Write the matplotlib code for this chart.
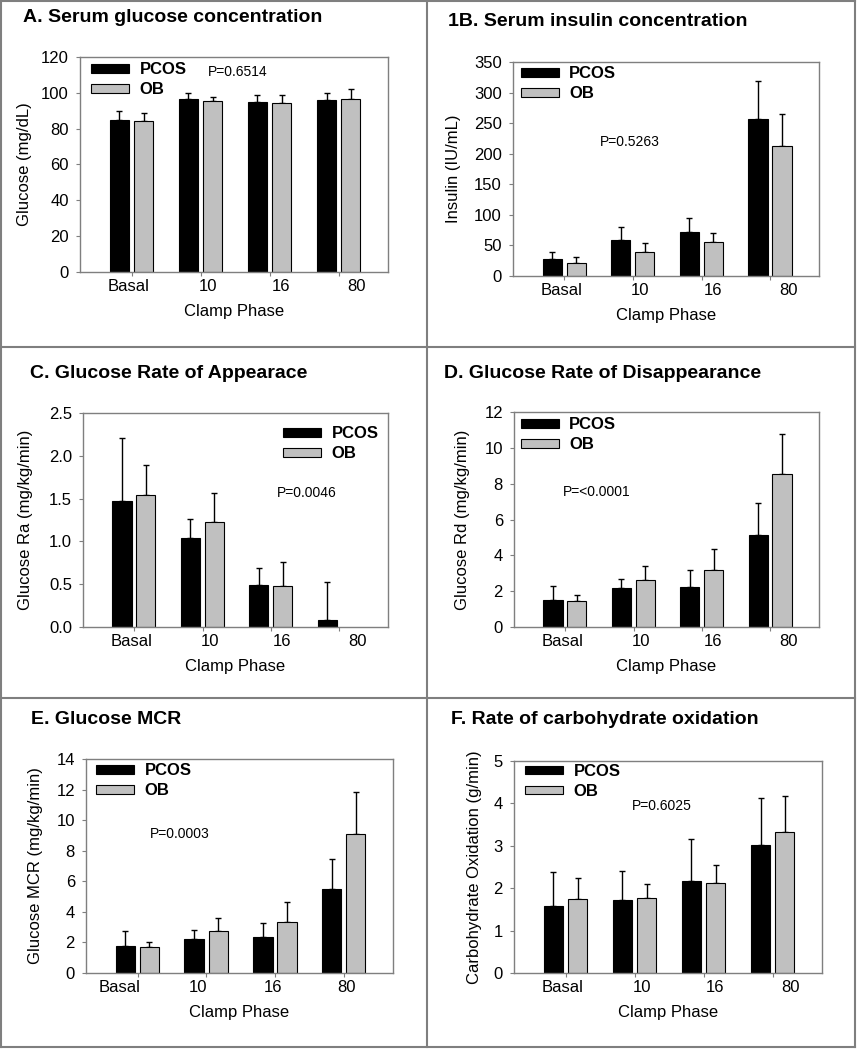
import numpy as np
import matplotlib
matplotlib.use("Agg")
import matplotlib.pyplot as plt
from matplotlib.lines import Line2D
from matplotlib.ticker import FormatStrFormatter

plt.rcParams["font.family"] = ["Liberation Sans", "DejaVu Sans"]

phases = ["Basal", "10", "16", "80"]

# A. serum glucose (mg/dL)
glucose_pcos = [85.0, 96.8, 95.0, 95.9]
glucose_pcos_err = [4.7, 3.2, 3.9, 3.9]
glucose_ob = [84.5, 95.7, 94.4, 96.3]
glucose_ob_err = [4.5, 2.2, 4.5, 5.7]

# B. serum insulin (IU/mL)
insulin_pcos = [27.2, 58.2, 72.4, 257.0]
insulin_pcos_err = [11.4, 22.4, 22.9, 62.0]
insulin_ob = [21.8, 38.6, 56.1, 211.8]
insulin_ob_err = [9.8, 15.3, 14.7, 52.8]

# C. glucose Ra (mg/kg/min) - no OB bar at 80
ra_pcos = [1.47, 1.04, 0.495, 0.078]
ra_pcos_err = [0.74, 0.22, 0.194, 0.448]
ra_ob = [1.54, 1.23, 0.48, np.nan]
ra_ob_err = [0.35, 0.335, 0.284, np.nan]

# D. glucose Rd (mg/kg/min)
rd_pcos = [1.53, 2.16, 2.23, 5.13]
rd_pcos_err = [0.76, 0.54, 0.97, 1.81]
rd_ob = [1.47, 2.60, 3.16, 8.54]
rd_ob_err = [0.30, 0.79, 1.21, 2.23]

# E. glucose MCR (mg/kg/min)
mcr_pcos = [1.79, 2.25, 2.36, 5.49]
mcr_pcos_err = [0.97, 0.57, 0.88, 1.97]
mcr_ob = [1.68, 2.76, 3.33, 9.08]
mcr_ob_err = [0.38, 0.83, 1.33, 2.73]

# F. carbohydrate oxidation (g/min)
cho_pcos = [1.57, 1.73, 2.18, 3.03]
cho_pcos_err = [0.81, 0.68, 0.98, 1.10]
cho_ob = [1.75, 1.76, 2.12, 3.32]
cho_ob_err = [0.49, 0.35, 0.43, 0.86]

W, H = 858, 1050
fig = plt.figure(figsize=(W / 100, H / 100), dpi=100)

shift_std = [-0.04, 0.10, 0.16, 0.26]
shift_e = [-0.26, -0.12, -0.03, 0.03]

panels = [
    dict(title="A. Serum glucose concentration", txy=(23, 17), box=(80, 57, 388, 272),
         ylabel="Glucose (mg/dL)", ylim=120, ystep=20,
         data=(glucose_pcos, glucose_pcos_err, glucose_ob, glucose_ob_err),
         p="P=0.6514", pxy=(0.416, 0.93), leg=(0.036, 0.975), shift=shift_std, ylx=-0.156),
    dict(title="1B. Serum insulin concentration", txy=(448, 22), box=(513, 62, 819, 276),
         ylabel="Insulin (IU/mL)", ylim=350, ystep=50,
         data=(insulin_pcos, insulin_pcos_err, insulin_ob, insulin_ob_err),
         p="P=0.5263", pxy=(0.284, 0.626), leg=(0.026, 0.98), shift=shift_std, ylx=-0.17),
    dict(title="C. Glucose Rate of Appearace", txy=(30, 373), box=(83, 413, 388, 627),
         ylabel="Glucose Ra (mg/kg/min)", ylim=2.5, ystep=0.5,
         data=(ra_pcos, ra_pcos_err, ra_ob, ra_ob_err),
         p="P=0.0046", pxy=(0.636, 0.626), leg=(0.656, 0.938), shift=shift_std, ylx=-0.164),
    dict(title="D. Glucose Rate of Disappearance", txy=(444, 373), box=(514, 412, 819, 627),
         ylabel="Glucose Rd (mg/kg/min)", ylim=12, ystep=2,
         data=(rd_pcos, rd_pcos_err, rd_ob, rd_ob_err),
         p="P=<0.0001", pxy=(0.16, 0.628), leg=(0.023, 0.975), shift=shift_std, ylx=-0.144),
    dict(title="E. Glucose MCR", txy=(31, 719), box=(86, 759, 393, 973),
         ylabel="Glucose MCR (mg/kg/min)", ylim=14, ystep=2,
         data=(mcr_pcos, mcr_pcos_err, mcr_ob, mcr_ob_err),
         p="P=0.0003", pxy=(0.208, 0.65), leg=(0.033, 0.98), shift=shift_e, ylx=-0.14),
    dict(title="F. Rate of carbohydrate oxidation", txy=(451, 720), box=(514, 761, 822, 973),
         ylabel="Carbohydrate Oxidation (g/min)", ylim=5, ystep=1,
         data=(cho_pcos, cho_pcos_err, cho_ob, cho_ob_err),
         p="P=0.6025", pxy=(0.383, 0.788), leg=(0.036, 0.985), shift=shift_std, ylx=-0.104),
]

x = np.arange(len(phases))
bw = 0.28
frame_col = "#7f7f7f"

for pn in panels:
    l, t, r, b = pn["box"]
    ax = fig.add_axes([l / W, 1 - b / H, (r - l) / W, (b - t) / H])
    pcos, pcos_err, ob, ob_err = [np.array(v, dtype=float) for v in pn["data"]]

    b1 = ax.bar(x - 0.18, pcos, bw, color="black", edgecolor="black", linewidth=0.8, label="PCOS", zorder=2)
    b2 = ax.bar(x + 0.17, ob, bw, color="#c0c0c0", edgecolor="black", linewidth=0.8, label="OB", zorder=2)
    ax.errorbar(x - 0.18, pcos, yerr=[np.zeros(4), pcos_err], fmt="none", ecolor="black",
                elinewidth=1, capsize=2.5, capthick=1, zorder=1)
    ok = ~np.isnan(ob)
    ax.errorbar((x + 0.17)[ok], ob[ok], yerr=[np.zeros(ok.sum()), ob_err[ok]], fmt="none",
                ecolor="black", elinewidth=1, capsize=2.5, capthick=1, zorder=1)

    ax.set_xlim(-0.75, 3.71)
    ax.set_ylim(0, pn["ylim"])
    ax.set_yticks(np.arange(0, pn["ylim"] + pn["ystep"] / 2, pn["ystep"]))
    if pn["ystep"] < 1:
        ax.yaxis.set_major_formatter(FormatStrFormatter("%.1f"))
    ax.set_xticks(x, [""] * 4)
    ax.set_xticks(x + np.array(pn["shift"]), phases, minor=True)
    ax.tick_params(axis="x", which="major", direction="out", length=3, width=0.8, color=frame_col)
    ax.tick_params(axis="x", which="minor", length=0, pad=5, labelsize=12)
    ax.tick_params(axis="y", direction="out", length=3, width=0.8, color=frame_col, pad=5, labelsize=12)
    for s in ax.spines.values():
        s.set_color(frame_col)
        s.set_linewidth(1)

    ax.set_ylabel(pn["ylabel"], fontsize=12)
    ax.yaxis.set_label_coords(pn["ylx"], 0.5)
    ax.set_xlabel("Clamp Phase", fontsize=12)
    ax.xaxis.set_label_coords(0.5, -0.15)

    ax.text(pn["pxy"][0], pn["pxy"][1], pn["p"], transform=ax.transAxes, fontsize=10,
            ha="left", va="center")
    ax.legend(handles=[b1, b2], loc="upper left", bbox_to_anchor=pn["leg"], frameon=False,
              prop={"weight": "bold", "size": 12}, handlelength=2.3, handleheight=0.4,
              handletextpad=0.6, labelspacing=0.3, borderpad=0, borderaxespad=0)

    fig.text(pn["txy"][0] / W, 1 - pn["txy"][1] / H, pn["title"], fontsize=14,
             fontweight="bold", ha="left", va="center")

# panel frame lines
def hline(y, x0=1, x1=855):
    fig.add_artist(Line2D([x0 / W, x1 / W], [1 - y / H, 1 - y / H], color=frame_col, lw=1.5))

def vline(xp, y0=1, y1=1047):
    fig.add_artist(Line2D([xp / W, xp / W], [1 - y0 / H, 1 - y1 / H], color=frame_col, lw=1.5))

for yy in (1, 347, 698, 1047):
    hline(yy)
for xx in (1, 427, 855):
    vline(xx)

fig.savefig("out.png", dpi=100)
